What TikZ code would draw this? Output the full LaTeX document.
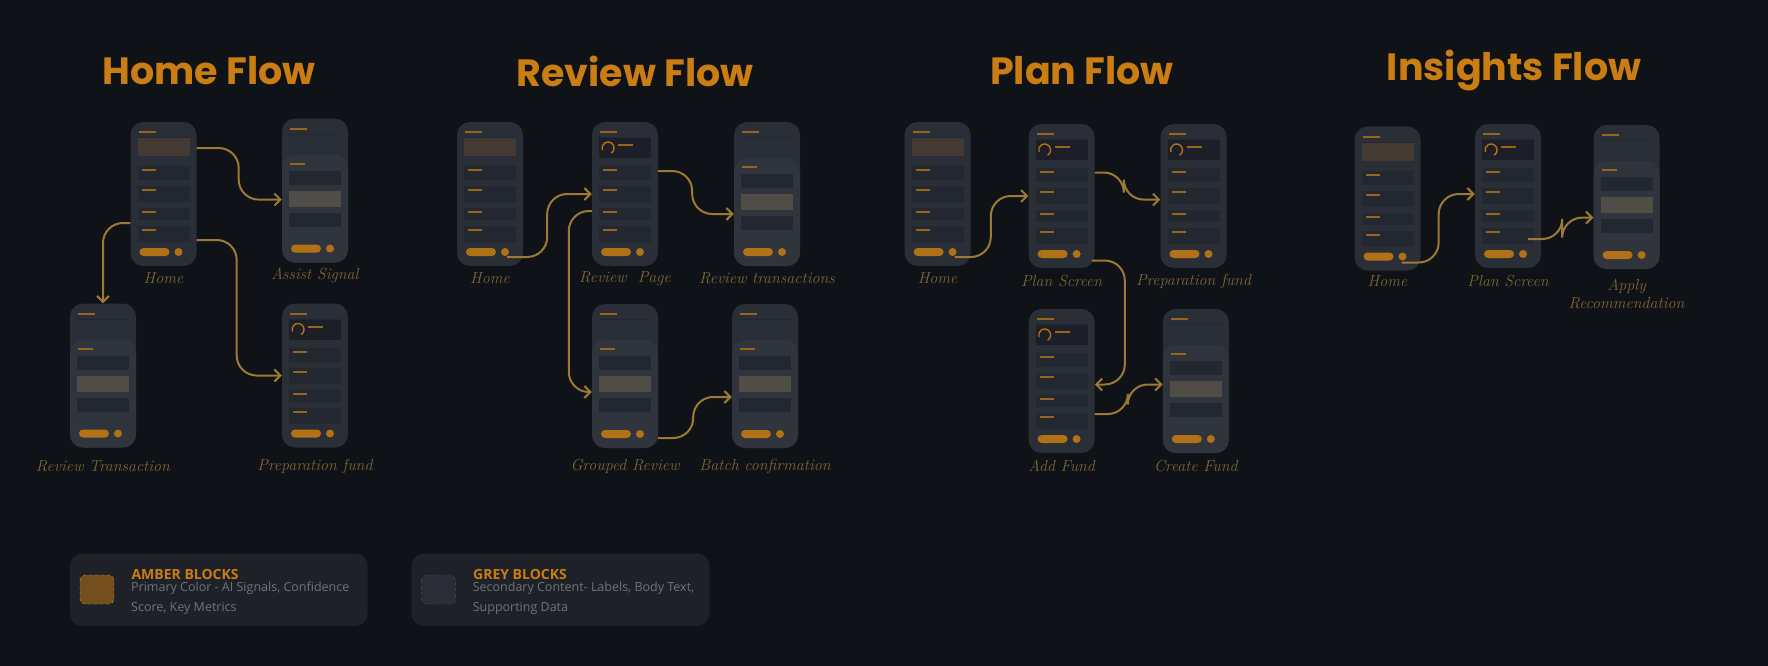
\documentclass[tikz,border=0pt]{standalone}
\usepackage{fontspec}
\newfontfamily\titlefont{Poppins}
\newfontfamily\uifont{Open Sans}
\usetikzlibrary{arrows.meta,positioning,calc}
\definecolor{bgc}{HTML}{0F1217}
\definecolor{phonec}{HTML}{2A2E36}
\definecolor{panelc}{HTML}{232730}
\definecolor{sheetc}{HTML}{30343D}
\definecolor{amberc}{HTML}{C97D12}
\definecolor{flowc}{HTML}{9C7A33}
\definecolor{labelc}{HTML}{7D6636}
\definecolor{legc}{HTML}{1E2128}
\definecolor{greyt}{HTML}{6E737C}
\tikzset{
  phonebox/.style={draw=none, fill=phonec, rounded corners=13pt, minimum width=66pt, minimum height=144pt, inner sep=0pt},
  panel/.style={fill=panelc},
  amberbar/.style={fill=amberc!70!phonec},
  title/.style={font=\titlefont\bfseries\fontsize{38}{40}\selectfont, text=amberc},
  screen/.style={font=\itshape\fontsize{16}{18}\selectfont, text=labelc, align=center},
  flow/.style={draw=flowc, line width=2pt, rounded corners=20pt, -{Straight Barb[length=6pt,width=12pt]}},
  legbox/.style={fill=legc, rounded corners=12pt},
  pics/homephone/.style={code={\phonebody
    \fill[fill=brown!22!panelc] (-26,-56) rectangle (26,-38);}},
  pics/ringphone/.style={code={\phonebody
    \fill[panelc!80!black] (-26,-56) rectangle (26,-36);
    \draw[amberc!85!phonec, line width=1.4pt] (-17,-46) ++(60:6) arc (60:-200:6);
    \fill[amberbar] (-7,-50) rectangle (8,-48);}},
  pics/sheetphone/.style={code={\phonebody
    \fill[sheetc, rounded corners=13pt] (-33,-36) rectangle (33,72);
    \fill[amberbar] (-25,-28) rectangle (-10,-26);
    \fill[panel] (-26,-20) rectangle (26,-6);
    \fill[fill=olive!12!panelc] (-26,0) rectangle (26,16);
    \fill[panel] (-26,22) rectangle (26,36);
    \fill[amberc!85!phonec, rounded corners=4pt] (-24,54) rectangle (6,62);
    \fill[amberc!85!phonec] (15,58) circle (4);}},
}
\newcommand\phonebody{%
  \node[phonebox] (-f) {};
  \fill[amberbar] (-25,-63) rectangle (-8,-61);
  \fill[panel] (-26,-57) rectangle (26,-56);
  \foreach \ya/\yb in {-28/-14, -8/8, 14/26, 32/48}{
    \fill[panel] (-26,\ya) rectangle (26,\yb);
    \fill[amberbar] (-22,\ya+3) rectangle (-8,\ya+5);
  }
  \fill[amberc!85!phonec, rounded corners=4pt] (-24,54) rectangle (6,62);
  \fill[amberc!85!phonec] (15,58) circle (4);
}
\begin{document}
\begin{tikzpicture}[x=1pt, y=-1pt]
  \fill[bgc] (0,0) rectangle (1768,666);
  \useasboundingbox (0,0) rectangle (1768,666);

  % Titles
  \node[title] (thome) at (209,71) {Home Flow};
  \node[title] (treview) at (635,71) {Review Flow};
  \node[title] (tplan) at (1082,71) {Plan Flow};
  \node[title] (tinsight) at (1514,71) {Insights Flow};

  % Home flow
  \pic (hhome) at (163.5,194) {homephone};
  \pic (hassist) at (315,190.6) {sheetphone};
  \pic (hrev) at (103,375.5) {sheetphone};
  \pic (hprep) at (315,375.5) {ringphone};
  \node[screen] at (163.5,278.5) {Home};
  \node[screen] at (315,275) {Assist Signal};
  \node[screen] at (103,466) {Review Transaction};
  \node[screen] at (315,466) {Preparation fund};
  \draw[flow] ([yshift=46pt]hhome-f.east) -- ++(42,0) |- ([yshift=-9pt]hassist-f.west);
  \draw[flow] ([yshift=-46pt]hhome-f.east) -- ++(40,0) |- (hprep-f.west);
  \draw[flow] ([yshift=-29pt]hhome-f.west) -| (hrev-f.north);

  % Review flow
  \pic (rhome) at (490,194) {homephone};
  \pic (rpage) at (625,194) {ringphone};
  \pic (rtrans) at (767,194) {sheetphone};
  \pic (rgroup) at (625,376) {sheetphone};
  \pic (rbatch) at (765,376) {sheetphone};
  \node[screen] at (490,278.5) {Home};
  \node[screen] at (625,278.5) {Review\ \ Page};
  \node[screen] at (767,278.5) {Review transactions};
  \node[screen] at (625,466) {Grouped Review};
  \node[screen] at (765,466) {Batch confirmation};
  \draw[flow] ([xshift=-16pt,yshift=-63pt]rhome-f.east) -- ++(40,0) |- (rpage-f.west);
  \draw[flow] ([yshift=23pt]rpage-f.east) -- ++(34,0) |- ([yshift=-20pt]rtrans-f.west);
  \draw[flow] ([yshift=-17pt]rpage-f.west) -- ++(-23,0) |- ([yshift=-16pt]rgroup-f.west);
  \draw[flow] ([yshift=-62pt]rgroup-f.east) -- ++(35,0) |- ([yshift=-21pt]rbatch-f.west);

  % Plan flow
  \pic (phome) at (937.6,194) {homephone};
  \pic (pplan) at (1061.6,196) {ringphone};
  \pic (pprep) at (1193.5,196) {ringphone};
  \pic (padd) at (1061.6,381) {ringphone};
  \pic (pcreate) at (1195.8,381) {sheetphone};
  \node[screen] at (937.6,278.5) {Home};
  \node[screen] at (1061.6,281) {Plan Screen};
  \node[screen] at (1193.5,281) {Preparation fund};
  \node[screen] at (1061.6,466) {Add Fund};
  \node[screen] at (1195.8,466) {Create Fund};
  \draw[flow] ([xshift=-16pt,yshift=-63pt]phome-f.east) -- ++(36,0) |- (pplan-f.west);
  \draw[flow] ([yshift=23.5pt]pplan-f.east) -- ++(29,0) |- ([yshift=-3.6pt]pprep-f.west);
  \draw[flow] ([xshift=-3pt,yshift=-64.5pt]pplan-f.east) -- ++(33,0) |- ([yshift=-3.5pt]padd-f.east);
  \draw[flow] ([yshift=-33pt]padd-f.east) -- ++(33,0) |- ([yshift=-3.5pt]pcreate-f.west);

  % Insights flow
  \pic (ihome) at (1387.5,198.5) {homephone};
  \pic (iplan) at (1508,196) {ringphone};
  \pic (iapply) at (1626.6,197) {sheetphone};
  \node[screen] at (1387.5,281) {Home};
  \node[screen] at (1508,281) {Plan Screen};
  \node[screen] at (1626.6,294) {Apply\\Recommendation};
  \draw[flow] ([xshift=-19pt,yshift=-64pt]ihome-f.east) -- ++(37,0) |- ([yshift=2pt]iplan-f.west);
  \draw[flow] ([xshift=-13pt,yshift=-43pt]iplan-f.east) -- ++(34,0) |- ([yshift=-20.6pt]iapply-f.west);

  % Legend
  \fill[legbox] (70,553.6) rectangle (367.6,625.8);
  \fill[legbox] (411.6,553.6) rectangle (709.3,625.8);
  \draw[fill=amberc!50!legc, draw=amberc!80!white, dashed, rounded corners=5pt] (80,575) rectangle (114,604);
  \draw[fill=legc!85!greyt, draw=greyt!60!legc, dashed, rounded corners=5pt] (421.6,575) rectangle (455.6,604);
  \node[anchor=west, font=\uifont\bfseries\fontsize{14}{16}\selectfont, text=amberc] (lamb) at (128,574) {AMBER BLOCKS};
  \node[anchor=north west, font=\uifont\fontsize{12.5}{20}\selectfont, text=greyt, align=left, inner sep=0pt] (lambt) at (131,582) {Primary Color - AI Signals, Confidence\\Score, Key Metrics};
  \node[anchor=west, font=\uifont\bfseries\fontsize{14}{16}\selectfont, text=amberc] (lgry) at (469.6,574) {GREY BLOCKS};
  \node[anchor=north west, font=\uifont\fontsize{12.5}{20}\selectfont, text=greyt, align=left, inner sep=0pt] (lgryt) at (472.6,582) {Secondary Content- Labels, Body Text,\\Supporting Data};
\end{tikzpicture}
\end{document}
